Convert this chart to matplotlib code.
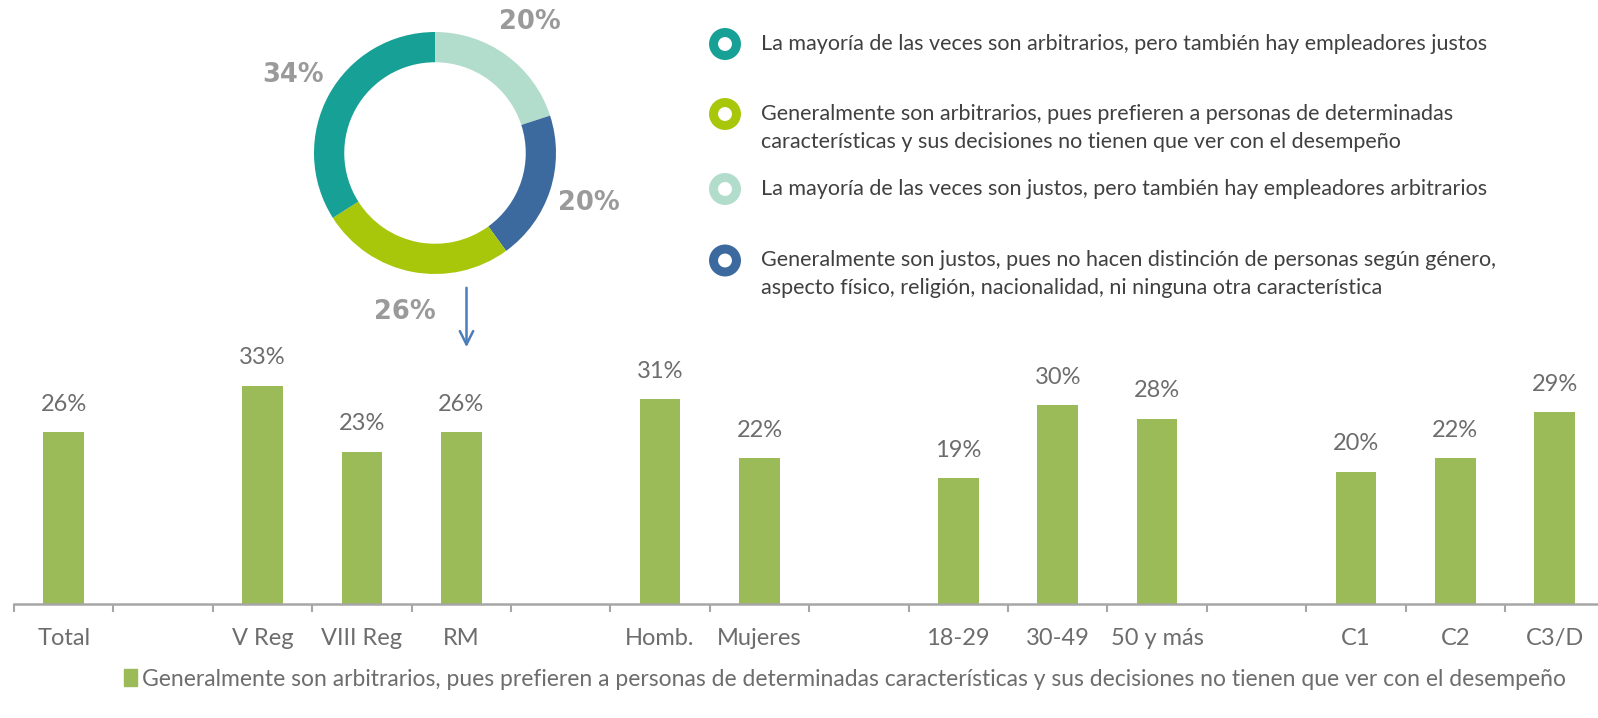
import matplotlib
matplotlib.use('Agg')
import matplotlib.pyplot as plt
from matplotlib.patches import Patch
import numpy as np

# ---------------- data ----------------
donut_labels = [
    "La mayoría de las veces son arbitrarios, pero también hay empleadores justos",
    "Generalmente son arbitrarios, pues prefieren a personas de determinadas\ncaracterísticas y sus decisiones no tienen que ver con el desempeño",
    "La mayoría de las veces son justos, pero también hay empleadores arbitrarios",
    "Generalmente son justos, pues no hacen distinción de personas según género,\naspecto físico, religión, nacionalidad, ni ninguna otra característica",
]
donut_values = [34, 26, 20, 20]
donut_colors = ['#17a096', '#a8c70a', '#b2dccb', '#3d6a9e']
pie_order = [2, 3, 1, 0]  # clockwise from 12 o'clock

bar_categories = ['Total', '', 'V Reg', 'VIII Reg', 'RM', '', 'Homb.', 'Mujeres', '',
                  '18-29', '30-49', '50 y más', '', 'C1', 'C2', 'C3/D']
bar_values = [26, None, 33, 23, 26, None, 31, 22, None, 19, 30, 28, None, 20, 22, 29]
bar_series = ("Generalmente son arbitrarios, pues prefieren a personas de determinadas "
              "características y sus decisiones no tienen que ver con el desempeño")

# ---------------- figure ----------------
W, H = 1598, 718
fig = plt.figure(figsize=(W / 100, H / 100), dpi=100)
fig.patch.set_facecolor('white')

BAR_COLOR = '#9bbb59'
TXT = '#6d6d6d'
FONT = 'Lato'

# Bar chart
base_y = 604
px_per_unit = 6.62
ymax = 40
ax = fig.add_axes([14 / W, (H - base_y) / H, 16 * 99.4 / W, ymax * px_per_unit / H])
x = np.arange(len(bar_categories))
vals = np.array([np.nan if v is None else v for v in bar_values], float)
mask = ~np.isnan(vals)
ax.bar(x[mask], vals[mask], width=0.41, color=BAR_COLOR)
ax.set_xlim(-0.5, len(x) - 0.5)
ax.set_ylim(0, ymax)
for xi, v in zip(x[mask], vals[mask]):
    ax.annotate(f'{v:.0f}%', (xi, v), xytext=(0, 20), textcoords='offset points',
                ha='center', va='center', fontsize=17, color=TXT, family=FONT)
ax.set_xticks(np.arange(len(x) + 1) - 0.5)
ax.set_xticklabels([])
ax.tick_params(axis='x', which='major', length=6, width=1.5, color='#a6a6a6', direction='out')
ax.set_xticks(x, minor=True)
ax.set_xticklabels(bar_categories, minor=True, fontsize=17, color=TXT, family=FONT)
ax.tick_params(axis='x', which='minor', length=0, pad=17.5)
ax.set_yticks([])
for s in ['left', 'top', 'right']:
    ax.spines[s].set_visible(False)
ax.spines['bottom'].set_color('#a6a6a6')
ax.spines['bottom'].set_linewidth(1.8)

# bottom legend
fig.legend(handles=[Patch(color=BAR_COLOR)], labels=[bar_series], loc='center',
           bbox_to_anchor=(845 / W, 1 - 679 / H), frameon=False,
           prop=dict(family=FONT, size=16.5), labelcolor=TXT,
           handlelength=0.55, handleheight=0.75, handletextpad=0.2)

# Donut
R = 121
cx, cy = 435, 153
dax = fig.add_axes([(cx - R) / W, (H - cy - R) / H, 2 * R / W, 2 * R / H])
vals_pie = [donut_values[i] for i in pie_order]
cols_pie = [donut_colors[i] for i in pie_order]
dax.pie(vals_pie, colors=cols_pie, startangle=90, counterclock=False, radius=1,
        wedgeprops=dict(width=0.25, edgecolor='none'),
        autopct=lambda p: f'{p:.0f}%', pctdistance=1.34,
        textprops=dict(color='#9a9a9a', fontsize=18.5, fontweight='bold', family='DejaVu Sans'))
dax.set_xlim(-1, 1)
dax.set_ylim(-1, 1)
dax.set_aspect('equal')

# Overlay for legend + arrow
ov = fig.add_axes([0, 0, 1, 1])
ov.set_xlim(0, W)
ov.set_ylim(H, 0)
ov.axis('off')

leg_y = [44, 114, 189, 260.5]
line_gap = 27.5
ov.scatter([725] * 4, leg_y, s=16.5 ** 2, facecolors='white', edgecolors=donut_colors,
           linewidths=6.5, zorder=3)
for y, lab in zip(leg_y, donut_labels):
    for i, line in enumerate(lab.split('\n')):
        ov.text(761, y + i * line_gap, line, ha='left', va='center', fontsize=15.5,
                color='#404040', family=FONT)

ov.annotate('', xy=(466.5, 350), xytext=(466.5, 285),
            arrowprops=dict(arrowstyle='->', color='#4a7ebb', lw=1.8, mutation_scale=24))

fig.savefig('out.png', dpi=100)
